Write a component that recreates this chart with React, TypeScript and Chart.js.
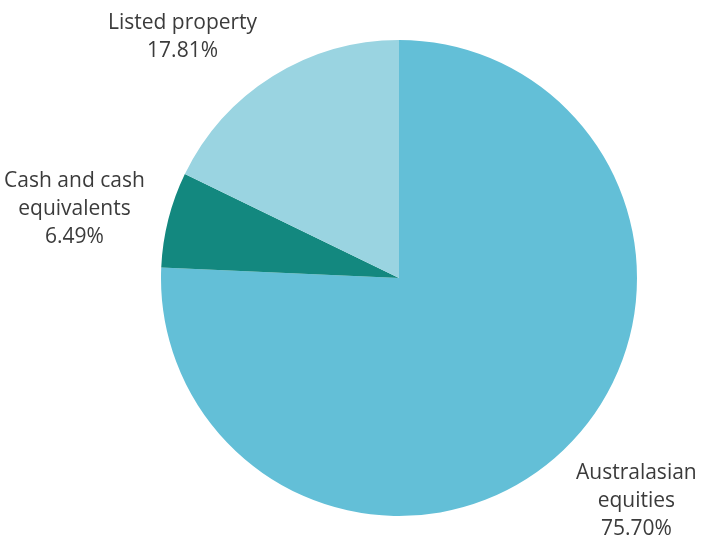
import React, { useEffect, useRef } from "react";
import { Chart, registerables } from "chart.js";

Chart.register(...registerables);

const categories: string[][] = [
  ["Australasian", "equities"],
  ["Cash and cash", "equivalents"],
  ["Listed property"],
];
const values: number[] = [75.7, 6.49, 17.81];
const valueLabels: string[] = ["75.70%", "6.49%", "17.81%"];
const colors: string[] = ["#63BFD7", "#13887F", "#9AD4E1"];

const FONT = "21px 'Open Sans', 'Noto Sans', sans-serif";
const LINE_H = 28;

const labelPlugin = {
  id: "outerLabels",
  afterDraw(chart: any) {
    const ctx = chart.ctx;
    const meta = chart.getDatasetMeta(0);
    ctx.save();
    ctx.font = FONT;
    ctx.fillStyle = "#3b3b3b";
    ctx.textBaseline = "middle";
    ctx.textAlign = "center";
    meta.data.forEach((arc: any, i: number) => {
      const { x, y, startAngle, endAngle, outerRadius } = arc.getProps(
        ["x", "y", "startAngle", "endAngle", "outerRadius"],
        true
      );
      const mid = (startAngle + endAngle) / 2;
      const cos = Math.cos(mid);
      const sin = Math.sin(mid);
      const r = outerRadius + 18;
      const ax = x + r * cos;
      const ay = y + r * sin;
      const lines = [...categories[i], valueLabels[i]];
      const w = Math.max(...lines.map((l) => ctx.measureText(l).width));
      const h = lines.length * LINE_H;
      let cx: number;
      if (cos > 0.2) cx = ax + w / 2;
      else if (cos < -0.2) cx = ax - w / 2 - 6;
      else cx = ax;
      let top: number;
      if (sin < -0.5) top = ay - h + 4;
      else if (sin > 0.5) top = ay - 4;
      else top = ay - h / 2 - 6;
      lines.forEach((l, k) => {
        ctx.fillText(l, cx, top + LINE_H / 2 + k * LINE_H);
      });
    });
    ctx.restore();
  },
};

export default function App() {
  const ref = useRef<HTMLCanvasElement>(null);
  useEffect(() => {
    if (!ref.current) return;
    const chart = new Chart(ref.current, {
      type: "pie",
      data: {
        labels: categories.map((c) => c.join(" ")),
        datasets: [
          {
            data: values,
            backgroundColor: colors,
            borderWidth: 0,
          },
        ],
      },
      options: {
        animation: false,
        responsive: false,
        layout: { padding: { left: 161, right: 64, top: 40, bottom: 23 } },
        plugins: {
          legend: { display: false },
          tooltip: { enabled: false },
        },
      },
      plugins: [labelPlugin],
    });
    return () => chart.destroy();
  }, []);
  return (
    <div style={{ position: "fixed", left: 0, top: 0, width: 701, height: 539, background: "#fff" }}>
      <canvas ref={ref} width={701} height={539} style={{ display: "block" }} />
    </div>
  );
}
